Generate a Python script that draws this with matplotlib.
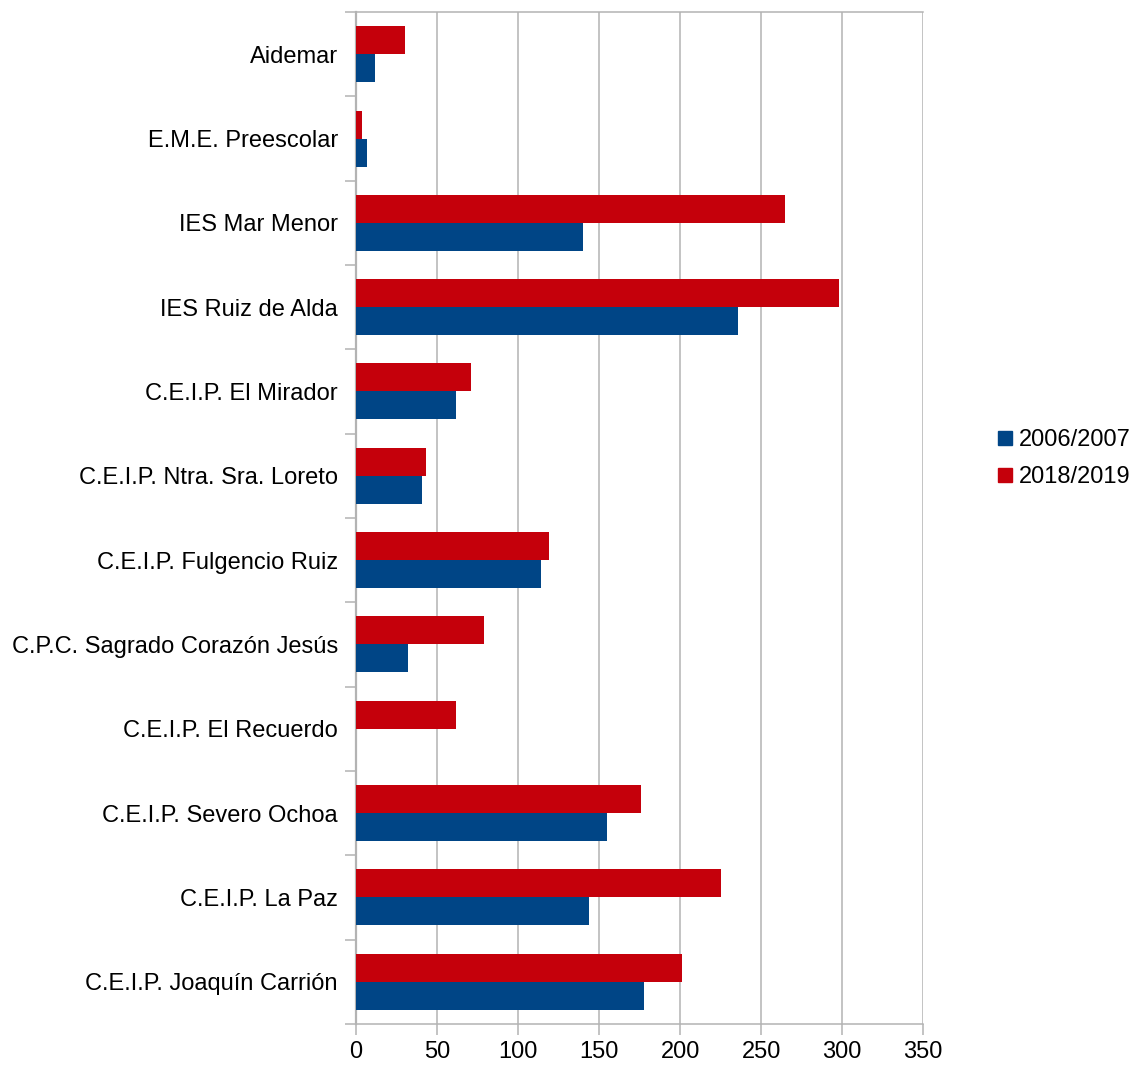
import numpy as np
import matplotlib.pyplot as plt
from matplotlib.lines import Line2D

plt.rcParams['font.family'] = ['Liberation Sans', 'DejaVu Sans']

# Data (top to bottom as shown in the chart)
schools = ['Aidemar', 'E.M.E. Preescolar', 'IES Mar Menor', 'IES Ruiz de Alda',
           'C.E.I.P. El Mirador', 'C.E.I.P. Ntra. Sra. Loreto',
           'C.E.I.P. Fulgencio Ruiz', 'C.P.C. Sagrado Corazón Jesús',
           'C.E.I.P. El Recuerdo', 'C.E.I.P. Severo Ochoa',
           'C.E.I.P. La Paz', 'C.E.I.P. Joaquín Carrión']
y2006 = [12, 7, 140, 236, 62, 41, 114, 32, 0, 155, 144, 178]
y2018 = [30, 4, 265, 298, 71, 43, 119, 79, 62, 176, 225, 201]

blue = '#004586'
red = '#c5000b'
grid_col = '#b3b3b3'

fig = plt.figure(figsize=(11.37, 10.72), dpi=100)
ax = fig.add_axes([0.313, 0.0448, 0.499, 0.944])

pos = np.arange(len(schools))
h = 0.332
ax.barh(pos - h / 2, y2018, height=h, color=red, zorder=3)
ax.barh(pos + h / 2, y2006, height=h, color=blue, zorder=3)

ax.set_ylim(len(schools) - 0.5, -0.5)
ax.set_xlim(0, 350)
ax.set_xticks(range(0, 351, 50))
ax.set_yticks(pos)
ax.set_yticklabels(schools)
ax.set_yticks(np.arange(-0.5, len(schools), 1), minor=True)

ax.tick_params(axis='y', which='major', length=0, pad=13, labelsize=17)
ax.tick_params(axis='y', which='minor', length=8, width=1.1, color=grid_col, direction='out')
ax.tick_params(axis='x', length=8, width=1.1, color=grid_col, labelsize=17, pad=4)

ax.grid(axis='x', color=grid_col, linewidth=1.1, zorder=0)
for side in ['left', 'bottom', 'top']:
    ax.spines[side].set_color(grid_col)
    ax.spines[side].set_linewidth(1.1)
ax.spines['left'].set_linewidth(1.6)
ax.spines['right'].set_visible(False)

handles = [Line2D([], [], marker='s', linestyle='', color=blue, markersize=10),
           Line2D([], [], marker='s', linestyle='', color=red, markersize=10)]
fig.legend(handles, ['2006/2007', '2018/2019'], loc='center left',
           bbox_to_anchor=(0.855, 0.572), frameon=False, fontsize=17,
           handletextpad=0.1, labelspacing=0.65, handlelength=1.0)

fig.savefig('out.png', dpi=100)
